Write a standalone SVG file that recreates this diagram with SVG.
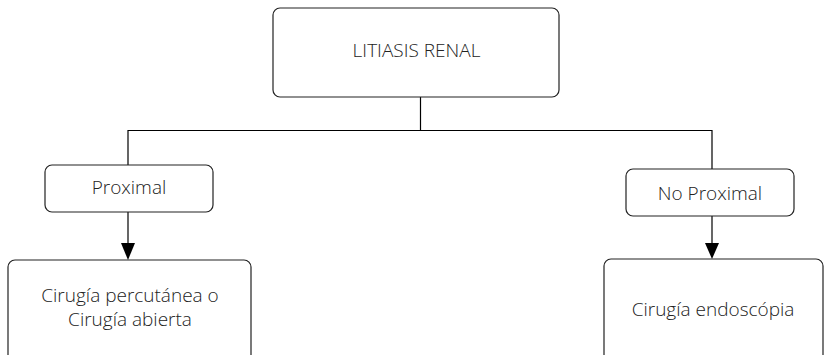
<svg xmlns="http://www.w3.org/2000/svg" width="827" height="355" viewBox="0 0 827 355">
<style>
.box{fill:#fff;stroke:#222;stroke-width:1.2}
.t{font-family:"Open Sans","Liberation Sans",sans-serif;font-weight:300;font-size:19px;fill:#222;text-anchor:middle}
.c{fill:none;stroke:#000;stroke-width:1.2}
</style>
<rect width="827" height="355" fill="#fff"/>
<g id="connectors">
<path class="c" d="M420.5,97 V130.5 M128,130.5 H712 M128,130 V165 M712,130 V169"/>
<path class="c" d="M128,212 V243" />
<path d="M121,243 L135,243 L128,260 Z" fill="#000"/>
<path class="c" d="M712,216 V243"/>
<path d="M705,243 L719,243 L712,259 Z" fill="#000"/>
</g>
<g id="n1"><rect class="box" x="273" y="8" width="286" height="89" rx="7"/><text class="t" x="416.5" y="57">LITIASIS RENAL</text></g>
<g id="n2"><rect class="box" x="45" y="165" width="168" height="47" rx="7"/><text class="t" x="129" y="194">Proximal</text></g>
<g id="n3"><rect class="box" x="626" y="169" width="168" height="47" rx="7"/><text class="t" x="710" y="200">No Proximal</text></g>
<g id="n4"><rect class="box" x="8" y="260" width="243" height="110" rx="7"/><text class="t" x="130" y="302">Cirugía percutánea o</text><text class="t" x="130" y="326">Cirugía abierta</text></g>
<g id="n5"><rect class="box" x="604" y="259" width="219" height="110" rx="7"/><text class="t" x="713" y="316">Cirugía endoscópia</text></g>
</svg>
